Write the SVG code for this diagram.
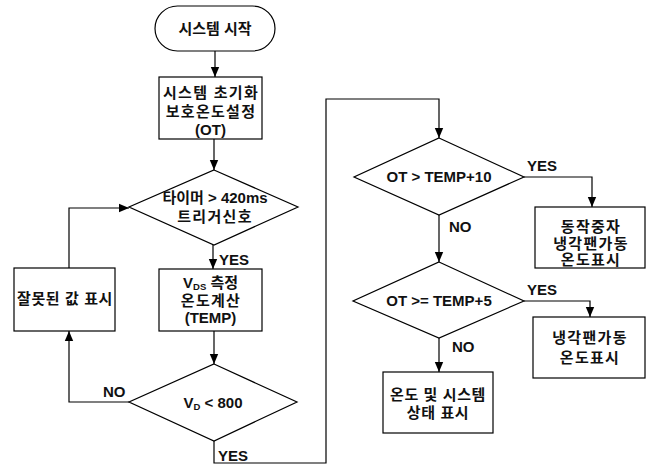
<svg xmlns="http://www.w3.org/2000/svg" width="650" height="467" viewBox="0 0 650 467">
<defs>
<marker id="arr" markerWidth="10" markerHeight="10" refX="10" refY="5" orient="auto" markerUnits="userSpaceOnUse">
<path d="M0,0.8 L10,5 L0,9.2 Z" fill="#000"/>
</marker>
<style>
.s{fill:#fff;stroke:#000;stroke-width:1.2}
.c{fill:none;stroke:#000;stroke-width:1.2}
text{font-family:"Liberation Sans","Noto Sans CJK KR",sans-serif;font-size:15px;font-weight:bold;fill:#111;text-anchor:middle}
.l{text-anchor:start}
.k{letter-spacing:1.3px}
</style>
</defs>
<rect width="650" height="467" fill="#fff"/>
<g id="connectors">
<path class="c" d="M215,51 V77" marker-end="url(#arr)"/>
<path class="c" d="M214,139 V170" marker-end="url(#arr)"/>
<path class="c" d="M213,245 V269" marker-end="url(#arr)"/>
<path class="c" d="M214,331 V364" marker-end="url(#arr)"/>
<path class="c" d="M129,402 H69 V331" marker-end="url(#arr)"/>
<path class="c" d="M69,268 V208 H129" marker-end="url(#arr)"/>
<path class="c" d="M214,441 V463 H326 V99 H439 V138" marker-end="url(#arr)"/>
<path class="c" d="M524,177 H592 V207" marker-end="url(#arr)"/>
<path class="c" d="M439,215 V262" marker-end="url(#arr)"/>
<path class="c" d="M524,301 H590 V317" marker-end="url(#arr)"/>
<path class="c" d="M439,338 V372" marker-end="url(#arr)"/>
<text class="l" x="219" y="265">YES</text>
<text class="l" x="103" y="397">NO</text>
<text class="l" x="218" y="461">YES</text>
<text class="l" x="527" y="171">YES</text>
<text class="l" x="449" y="232">NO</text>
<text class="l" x="527" y="295">YES</text>
<text class="l" x="452" y="352">NO</text>
</g>
<g id="start">
<rect class="s" x="155" y="6" width="120" height="45" rx="22.5"/>
<text x="215" y="34">시스템 시작</text>
</g>
<g id="init">
<rect class="s" x="159" y="77" width="103" height="62"/>
<text class="k" x="211" y="98">시스템 초기화</text>
<text class="k" x="211" y="117">보호온도설정</text>
<text x="210.5" y="135">(OT)</text>
</g>
<g id="timer">
<polygon class="s" points="214,170 298,207 214,245 129,207"/>
<text x="215" y="203">타이머 &gt; 420ms</text>
<text class="k" x="215" y="222">트리거신호</text>
</g>
<g id="measure">
<rect class="s" x="159" y="269" width="103" height="62"/>
<text x="210.5" y="288">V<tspan font-size="9.5" dy="2">DS</tspan><tspan dy="-2"> 측정</tspan></text>
<text class="k" x="211" y="306">온도계산</text>
<text x="210.5" y="323">(TEMP)</text>
</g>
<g id="vdcheck">
<polygon class="s" points="214,364 297,402 214,441 129,402"/>
<text x="213" y="408">V<tspan font-size="9.5" dy="2">D</tspan><tspan dy="-2"> &lt; 800</tspan></text>
</g>
<g id="error">
<rect class="s" x="14" y="268" width="101" height="63"/>
<text x="65" y="304" letter-spacing="0.6">잘못된 값 표시</text>
</g>
<g id="check10">
<polygon class="s" points="439,138 524,177 439,215 354,177"/>
<text x="439" y="182">OT &gt; TEMP+10</text>
</g>
<g id="stop">
<rect class="s" x="535" y="207" width="110" height="61"/>
<text class="k" x="591" y="232">동작중자</text>
<text class="k" x="591" y="249">냉각팬가동</text>
<text class="k" x="591" y="265">온도표시</text>
</g>
<g id="check5">
<polygon class="s" points="439,262 524,301 439,338 353,301"/>
<text x="439" y="306">OT &gt;= TEMP+5</text>
</g>
<g id="fan">
<rect class="s" x="533" y="317" width="112" height="61"/>
<text class="k" x="590" y="343">냉각팬가동</text>
<text class="k" x="590" y="363">온도표시</text>
</g>
<g id="status">
<rect class="s" x="383" y="372" width="110" height="61"/>
<text x="438" y="400" letter-spacing="0.6">온도 및 시스템</text>
<text x="438" y="418" letter-spacing="0.6">상태 표시</text>
</g>
</svg>
